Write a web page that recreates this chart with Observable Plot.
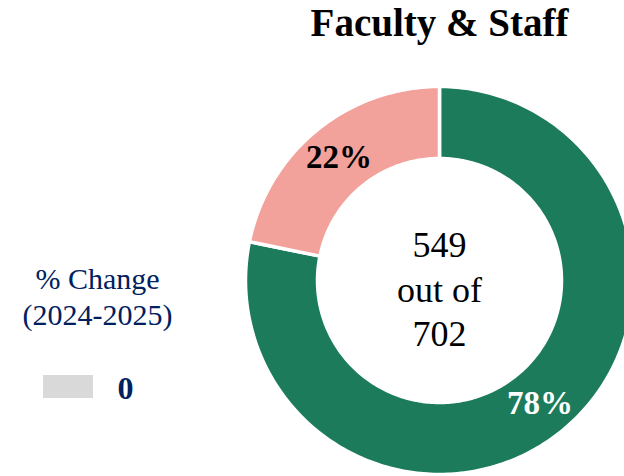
<!DOCTYPE html>
<html><head><meta charset="utf-8">
<script src="https://cdn.jsdelivr.net/npm/d3@7"></script>
<script src="https://cdn.jsdelivr.net/npm/@observablehq/plot@0.6"></script>
<style>html,body{margin:0;padding:0;background:#fff;overflow:hidden}</style>
</head><body><div id="chart"></div>
<script>
// ---- data ----
const title = "Faculty & Staff";
const categories = ["Counted", "Remaining"];
const values = [549, 153];
const colors = ["#1b7b5a", "#f2a19b"];
const labelColors = ["#ffffff", "#000000"];
const changeLabel = ["% Change", "(2024-2025)"];
const changeValues = [0];

// ---- layout ----
const W = 624, H = 476;
const cx = 439, cy = 280, R = 194, r = 122;
const rLabel = 159;
const font = "'Liberation Serif', 'DejaVu Serif', serif";
const navy = "#002060";

const total = d3.sum(values);
const arcs = d3.pie().sort(null).value(d => d)(values);

const ringPts = [];
arcs.forEach((p, i) => {
  const n = Math.max(4, Math.ceil((p.endAngle - p.startAngle) / (Math.PI / 180)));
  for (let k = 0; k <= n; k++) {
    const a = p.startAngle + (p.endAngle - p.startAngle) * k / n;
    ringPts.push({cat: categories[i], x: cx + R * Math.sin(a), y: cy - R * Math.cos(a)});
  }
  for (let k = n; k >= 0; k--) {
    const a = p.startAngle + (p.endAngle - p.startAngle) * k / n;
    ringPts.push({cat: categories[i], x: cx + r * Math.sin(a), y: cy - r * Math.cos(a)});
  }
});

const pctLabels = arcs.map((p, i) => {
  const m = (p.startAngle + p.endAngle) / 2;
  return {
    x: cx + rLabel * Math.sin(m),
    y: cy - rLabel * Math.cos(m),
    text: Math.round(values[i] / total * 100) + "%",
    color: labelColors[i]
  };
});

const centerText = [{x: cx, y: cy + 7, text: `${values[0]}\nout of\n${total}`}];
const titleData = [{x: cx, y: 23, text: title}];
const changeText = [{x: 97, y: 295, text: changeLabel.join("\n")}];
const swatch = changeValues.map(v => ({x1: 43, x2: 93, y1: 375, y2: 398, v}));
const changeNum = changeValues.map(v => ({x: 125, y: 388, text: String(v)}));

const chart = Plot.plot({
  width: W, height: H,
  margin: 0,
  style: {background: "#fff", fontFamily: font},
  x: {domain: [0, W], range: [0, W], axis: null},
  y: {domain: [0, H], range: [0, H], axis: null},
  color: {domain: categories, range: colors},
  marks: [
    Plot.line(ringPts, {x: "x", y: "y", z: "cat", fill: "cat", stroke: "#fff", strokeWidth: 3.5, curve: "linear-closed", clip: true}),
    Plot.text(pctLabels, {x: "x", y: "y", text: "text", fill: d => d.color, fontSize: 33, fontWeight: "bold", fontFamily: font, textAnchor: "middle", lineAnchor: "middle"}),
    Plot.text(centerText, {x: "x", y: "y", text: "text", fill: "#000", fontSize: 36, lineHeight: 1.24, fontFamily: font, textAnchor: "middle", lineAnchor: "middle"}),
    Plot.text(titleData, {x: "x", y: "y", text: "text", fill: "#000", fontSize: 39, fontWeight: "bold", fontFamily: font, textAnchor: "middle", lineAnchor: "middle"}),
    Plot.text(changeText, {x: "x", y: "y", text: "text", fill: navy, fontSize: 30, lineHeight: 1.19, fontFamily: font, textAnchor: "middle", lineAnchor: "middle"}),
    Plot.rect(swatch, {x1: "x1", x2: "x2", y1: "y1", y2: "y2", fill: "#d9d9d9"}),
    Plot.text(changeNum, {x: "x", y: "y", text: "text", fill: navy, fontSize: 32, fontWeight: "bold", fontFamily: font, textAnchor: "middle", lineAnchor: "middle"})
  ]
});
document.getElementById("chart").appendChild(chart);
</script>
</body></html>
